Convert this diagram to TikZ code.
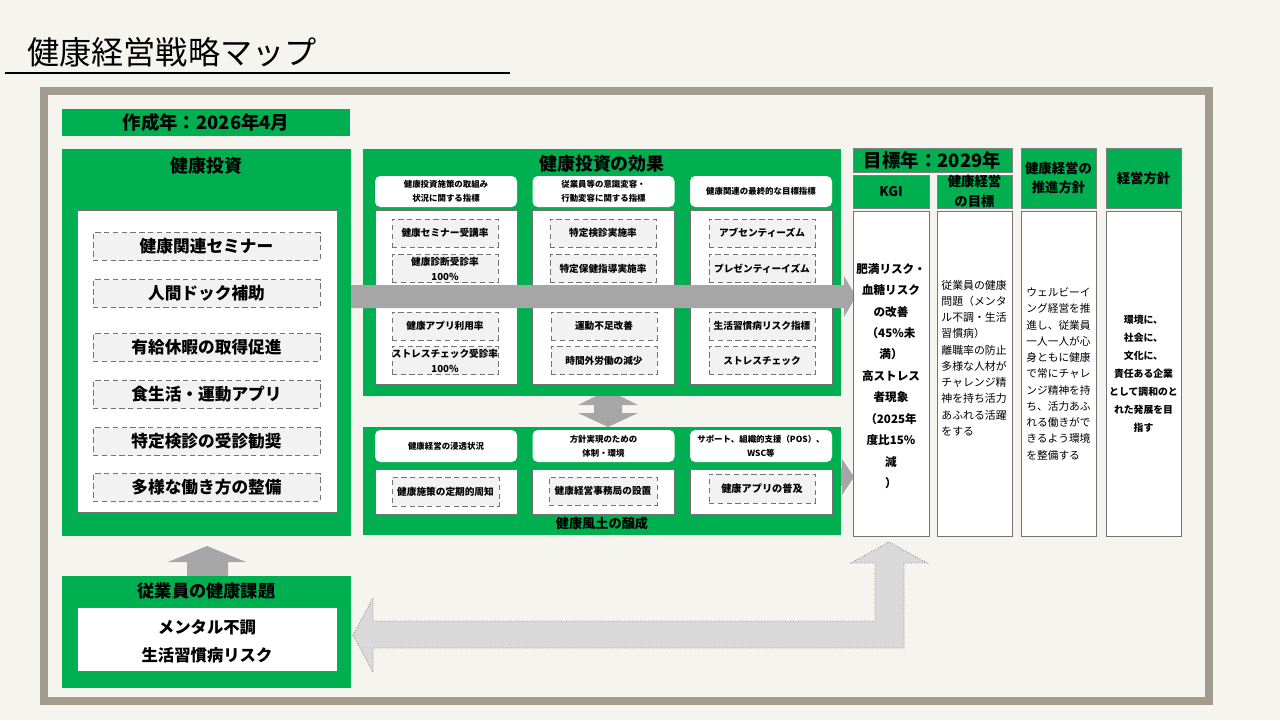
\documentclass[tikz,border=0pt]{standalone}
\usepackage{fontspec}
\setmainfont{Noto Sans CJK JP}
\usepackage{tikz}
\usetikzlibrary{positioning}

\definecolor{kgreen}{HTML}{00B050}
\definecolor{paper}{HTML}{F5F4EF}
\definecolor{framec}{HTML}{A39B8E}
\definecolor{arrgray}{HTML}{A6A6A6}
\definecolor{lightarr}{HTML}{D9D9D9}
\definecolor{itemfill}{HTML}{F2F2F2}

\newcommand{\fsz}[2]{\fontsize{#1}{#2}\selectfont}

\begin{document}
\begin{tikzpicture}[x=0.02cm,y=-0.02cm,
    sz/.style 2 args={minimum width=#1*0.02cm,minimum height=#2*0.02cm},
    panel/.style={fill=kgreen,inner sep=0pt},
    wbox/.style={draw=black!55,fill=white,line width=0.4pt,inner sep=0pt},
    hdr/.style={fill=white,rounded corners=3pt,inner sep=0pt,align=center,font=\bfseries\fsz{4.8}{7.9}},
    item/.style={draw=black!55,densely dashed,line width=0.3pt,fill=itemfill,inner sep=0pt,align=center},
    small/.style={font=\bfseries\fsz{5.5}{8.5}},
    ttl/.style={inner sep=0pt,font=\bfseries\fsz{10.2}{12}},
    colhdr/.style={fill=kgreen,draw=black!50,line width=0.4pt,inner sep=0pt,align=center,font=\bfseries\fsz{7.6}{11}},
    coltxt/.style={inner sep=0pt}]
  \fill[paper] (0,0) rectangle (1280,720);
  \useasboundingbox (0,0) rectangle (1280,720);
  \draw[framec,line width=4.5pt] (44,91) rectangle (1209,701);

  \node[anchor=west,inner sep=0pt,font=\fsz{18.3}{20}] (title) at (27,52) {健康経営戦略マップ};
  \draw[line width=0.6pt] (5,73) -- (510,73);

  % gray arrows lying under the panels
  \fill[arrgray] (608,390) -- (638,405) -- (622,405) -- (622,413) -- (638,413) -- (608,427)
    -- (578,413) -- (594,413) -- (594,405) -- (578,405) -- cycle;
  \fill[arrgray] (800,468) -- (842,468) -- (842,459) -- (854,477) -- (842,495) -- (842,486) -- (800,486) -- cycle;
  \fill[arrgray] (207,546) -- (246,562) -- (228,562) -- (228,577) -- (187,577) -- (187,562) -- (168,562) -- cycle;

  % left column
  \node[panel,sz={288}{27},font=\bfseries\fsz{10.5}{12}] (made) at (206,122.5) {作成年：2026年4月};
  \node[panel,sz={289}{387}] (inv) at (206.5,342.5) {};
  \node[ttl] (invT) at (206.5,166) {健康投資};
  \node[wbox,sz={260}{302}] (invB) at (207,361) {};
  \foreach \y/\t [count=\i] in {246.5/健康関連セミナー,293.5/人間ドック補助,347.5/有給休暇の取得促進,
      394.5/食生活・運動アプリ,441.5/特定検診の受診勧奨,487.5/多様な働き方の整備}
    \node[item,sz={227}{28},font=\bfseries\fsz{9.5}{11}] (inv\i) at (206.5,\y) {\t};

  % effects of the investment
  \node[panel,sz={478}{247}] (eff) at (602,272.5) {};
  \node[ttl] (effT) at (602,164) {健康投資の効果};
  \foreach \x/\t [count=\i] in {446/{健康投資施策の取組み\\状況に関する指標},603.5/{従業員等の意識変容・\\行動変容に関する指標},
      761/{健康関連の最終的な目標指標}} {
    \node[hdr,sz={142}{31}] (effH\i) at (\x,191.5) {\t};
    \node[wbox,sz={142}{174}] (effB\i) at (\x,297) {};
  }
  \foreach \x/\y/\t [count=\i] in {445/233/健康セミナー受講率,445/268.5/{健康診断受診率\\100\%},
      445/326/健康アプリ利用率,445/360.5/{ストレスチェック受診率\\100\%},
      603/233/特定検診実施率,603/268.5/特定保健指導実施率,604/326/運動不足改善,604/360.5/時間外労働の減少,
      762/233/アブセンティーズム,762/268.5/プレゼンティーイズム,762/326/生活習慣病リスク指標,762/360.5/ストレスチェック}
    \node[item,small,sz={106}{28}] (effI\i) at (\x,\y) {\t};

  \fill[arrgray] (351,285) -- (844,285) -- (844,276) -- (856,296.5) -- (844,317) -- (844,308) -- (351,308) -- cycle;

  % culture panel
  \node[panel,sz={478}{108}] (cult) at (602,481) {};
  \node[ttl,font=\bfseries\fsz{7.5}{9}] (cultT) at (602,523) {健康風土の醸成};
  \foreach \x/\t [count=\i] in {446/{健康経営の浸透状況},603.5/{方針実現のための\\体制・環境},
      761/{サポート、組織的支援（POS）、\\WSC等}} {
    \node[hdr,sz={142}{32}] (cultH\i) at (\x,446) {\t};
    \node[wbox,sz={142}{45}] (cultB\i) at (\x,491.5) {};
  }
  \node[item,small,sz={107}{29}] (cultI1) at (445.5,491.5) {健康施策の定期的周知};
  \node[item,small,sz={108}{28}] (cultI2) at (603,491) {健康経営事務局の設置};
  \node[item,small,sz={106}{29},font=\bfseries\fsz{5.8}{8}] (cultI3) at (762,488.5) {健康アプリの普及};

  % goal columns
  \node[colhdr,sz={159}{24},font=\bfseries\fsz{10.5}{12}] (goal) at (932.5,160) {目標年：2029年};
  \node[colhdr,sz={76}{33}] (kgiH) at (891,191.5) {KGI};
  \node[colhdr,sz={75}{33}] (aimH) at (974.5,191.5) {健康経営\\の目標};
  \node[colhdr,sz={75}{60}] (polH) at (1058.5,178) {健康経営の\\推進方針};
  \node[colhdr,sz={75}{60}] (mgtH) at (1143.5,178) {経営方針};
  \node[wbox,sz={76}{325}] (kgiB) at (891,373.5) {};
  \node[wbox,sz={75}{325}] (aimB) at (974.5,373.5) {};
  \node[wbox,sz={75}{325}] (polB) at (1058.5,373.5) {};
  \node[wbox,sz={75}{325}] (mgtB) at (1143.5,373.5) {};
  \node[coltxt,align=center,font=\bfseries\fsz{6.6}{12.2}] (kgiX) at (891,376)
    {肥満リスク・\\血糖リスク\\の改善\\（45\%未\\満）\\高ストレス\\者現象\\（2025年\\度比15\%\\減\\）};
  \node[coltxt,align=left,anchor=west,font=\fsz{6.2}{9.25}] (aimX) at (941,358)
    {従業員の健康\\問題（メンタ\\ル不調・生活\\習慣病）\\離職率の防止\\多様な人材が\\チャレンジ精\\神を持ち活力\\あふれる活躍\\をする};
  \node[coltxt,align=left,anchor=west,font=\fsz{6.1}{9.25}] (polX) at (1026,374)
    {ウェルビーイ\\ング経営を推\\進し、従業員\\一人一人が心\\身ともに健康\\で常にチャレ\\ンジ精神を持\\ち、活力あふ\\れる働きがで\\きるよう環境\\を整備する};
  \node[coltxt,align=center,font=\bfseries\fsz{5.6}{10.2}] (mgtX) at (1143.5,374)
    {環境に、\\社会に、\\文化に、\\責任ある企業\\として調和のと\\れた発展を目\\指す};

  % health issues
  \node[panel,sz={289}{112}] (iss) at (206.5,632) {};
  \node[ttl,font=\bfseries\fsz{9.8}{12}] (issT) at (206.5,591) {従業員の健康課題};
  \node[wbox,sz={260}{64}] (issB) at (207,639) {};
  \node[coltxt,align=center,font=\bfseries\fsz{9.3}{16}] (issX) at (207,641) {メンタル不調\\生活習慣病リスク};

  \draw[black!45,densely dotted,fill=lightarr,line width=0.5pt] (353,635) -- (373,598) -- (373,621) -- (875,621)
    -- (875,563) -- (851,563) -- (889,542) -- (927,563) -- (904,563) -- (904,648) -- (373,648) -- (373,672) -- cycle;
\end{tikzpicture}
\end{document}
